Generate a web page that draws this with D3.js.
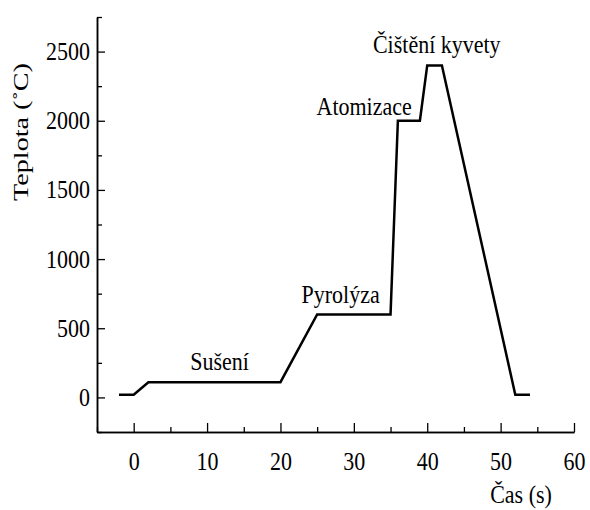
<!DOCTYPE html>
<html>
<head>
<meta charset="utf-8">
<script src="https://cdn.jsdelivr.net/npm/d3@7"></script>
<style>
  body { margin: 0; background: #fff; }
  text { font-family: "Liberation Serif", "DejaVu Serif", serif; fill: #000; }
</style>
</head>
<body>
<div id="chart"></div>
<script>
// data
const timeS = [-2, 0, 2, 20, 25, 35, 36, 39, 40, 42, 52, 54];
const tempC = [20, 20, 110, 110, 600, 600, 2000, 2000, 2400, 2400, 20, 20];

const stageNames = ["Sušení", "Pyrolýza", "Atomizace", "Čištění kyvety"];
const stageX = [11.7, 28.2, 31.4, 41.3];
const stageY = [196, 681, 2043, 2490];

const xTicks = [0, 10, 20, 30, 40, 50, 60];
const yTicks = [0, 500, 1000, 1500, 2000, 2500];

const width = 590, height = 510;
const margin = { left: 97, top: 17, right: 16, bottom: 78 };
const stretch = 1.12; // text in the picture is a bit taller than normal

const svg = d3.select("#chart").append("svg")
  .attr("width", width).attr("height", height);

const x = d3.scaleLinear().domain([-5, 60]).range([margin.left, width - margin.right]);
const y = d3.scaleLinear().domain([-250, 2750]).range([height - margin.bottom, margin.top]);

// *axes (ticks point inward)
const minorX = d3.range(-5, 61, 5).filter(v => v % 10 !== 0);
const minorY = d3.range(-250, 2751, 250).filter(v => v % 500 !== 0);

const xAxisG = svg.append("g").attr("transform", "translate(0," + y(-250) + ")");
xAxisG.call(d3.axisBottom(x).tickValues(minorX).tickSize(-5).tickFormat("").tickSizeOuter(0));
xAxisG.call(g => g.append("g").call(d3.axisBottom(x).tickValues(xTicks).tickSize(-9).tickSizeOuter(0).tickFormat(d3.format("d"))));

const yAxisG = svg.append("g").attr("transform", "translate(" + x(-5) + ",0)");
yAxisG.call(d3.axisLeft(y).tickValues(minorY).tickSize(-5).tickFormat("").tickSizeOuter(0));
yAxisG.call(g => g.append("g").call(d3.axisLeft(y).tickValues(yTicks).tickSize(-8).tickSizeOuter(0).tickFormat(d3.format("d"))));

svg.selectAll(".domain").attr("stroke", "#000").attr("stroke-width", 1.5);
svg.selectAll(".tick line").attr("stroke", "#000").attr("stroke-width", 1.3);
svg.selectAll(".tick text")
  .style("font-family", "Liberation Serif")
  .style("font-size", "22px");
// baseline-anchored stretch for tick labels
xAxisG.selectAll(".tick text")
  .attr("y", null).attr("dy", null)
  .attr("transform", "translate(0,38) scale(1," + stretch + ")");
yAxisG.selectAll(".tick text")
  .attr("x", -7).attr("dy", null)
  .attr("transform", "translate(0,8) scale(1," + stretch + ")");

// *axis titles
svg.append("text")
  .attr("transform", "translate(28,132) scale(1,1.28) rotate(-90)")
  .attr("text-anchor", "middle")
  .style("font-size", "22px")
  .text("Teplota (˚C)");

svg.append("text")
  .attr("transform", "translate(521,503) scale(1," + stretch + ")")
  .attr("text-anchor", "middle")
  .style("font-size", "22px")
  .text("Čas (s)");

// *temperature program line
const pts = timeS.map((t, i) => [t, tempC[i]]);
svg.append("path")
  .datum(pts)
  .attr("fill", "none")
  .attr("stroke", "#000")
  .attr("stroke-width", 2.5)
  .attr("stroke-linejoin", "miter")
  .attr("d", d3.line().x(d => x(d[0])).y(d => y(d[1])));

// *stage labels
svg.selectAll(".stage")
  .data(stageNames)
  .enter().append("text")
  .attr("class", "stage")
  .attr("transform", (d, i) => "translate(" + x(stageX[i]) + "," + y(stageY[i]) + ") scale(1," + stretch + ")")
  .attr("text-anchor", "middle")
  .style("font-size", "22px")
  .text(d => d);
</script>
</body>
</html>
